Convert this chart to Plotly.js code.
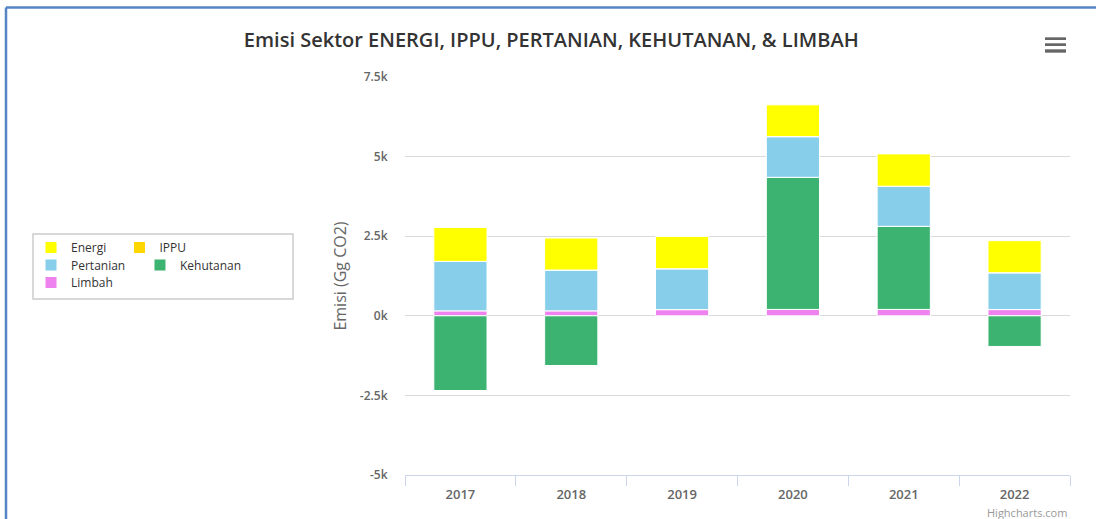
<!DOCTYPE html>
<html>
<head>
<meta charset="utf-8">
<script src="https://cdn.plot.ly/plotly-3.0.1.min.js"></script>
<style>
  html, body { margin: 0; padding: 0; background: #ffffff; }
  #chart { width: 1096px; height: 519px; }
</style>
</head>
<body>
<div id="chart"></div>
<script>
// ---- data (Gg CO2) ----
var years = ['2017', '2018', '2019', '2020', '2021', '2022'];
var energi = [1068, 1005, 1015, 996, 1015, 1005];
var ippu = [3, 3, 3, 4, 4, 4];
var pertanian = [1550, 1280, 1281, 1275, 1256, 1155];
var kehutanan = [-2346, -1561, 0, 4150, 2610, -963];
var limbah = [155, 155, 195, 200, 200, 195];

var yTickVals = [-5000, -2500, 0, 2500, 5000, 7500];
var yTickText = ['-5k', '-2.5k', '0k', '2.5k', '5k', '7.5k'];

var FONT = 'Open Sans, Noto Sans, sans-serif';

function barTrace(name, values, color, legendId) {
  return {
    type: 'bar',
    name: name,
    x: years,
    y: values,
    marker: { color: color, line: { color: '#ffffff', width: 1 } },
    legend: legendId,
    showlegend: true,
    hoverinfo: 'x+y+name'
  };
}

// stacking order: first trace is nearest zero
var data = [
  barTrace('Limbah', limbah, '#ee82ee', 'legend5'),
  barTrace('Kehutanan', kehutanan, '#3cb371', 'legend4'),
  barTrace('Pertanian', pertanian, '#87ceeb', 'legend3'),
  barTrace('IPPU', ippu, '#ffd700', 'legend2'),
  barTrace('Energi', energi, '#ffff00', 'legend')
];

function legendAt(x, y) {
  return {
    x: x, y: y, xanchor: 'left', yanchor: 'middle',
    xref: 'paper', yref: 'paper',
    bgcolor: 'rgba(0,0,0,0)', borderwidth: 0,
    font: { family: FONT, size: 12, color: '#333333' },
    orientation: 'v',
    visible: true
  };
}

var layout = {
  width: 1096,
  height: 519,
  showlegend: true,
  paper_bgcolor: '#ffffff',
  plot_bgcolor: '#ffffff',
  margin: { l: 405, r: 26, t: 77, b: 44, autoexpand: false },
  font: { family: FONT, color: '#666666' },
  barmode: 'relative',
  bargap: 0.52,
  title: {
    text: 'Emisi Sektor ENERGI, IPPU, PERTANIAN, KEHUTANAN, &amp; LIMBAH',
    x: 0.503, xanchor: 'center', xref: 'container',
    y: 1 - 40 / 519, yanchor: 'middle', yref: 'container',
    font: { family: FONT, size: 20, color: '#333333', weight: 600 }
  },
  xaxis: {
    type: 'category',
    tickson: 'boundaries',
    ticks: 'outside',
    ticklen: 10,
    tickcolor: '#ccd6eb',
    tickwidth: 1,
    ticklabelstandoff: 7,
    showline: true,
    linecolor: '#ccd6eb',
    linewidth: 1,
    showgrid: false,
    zeroline: false,
    tickfont: { family: FONT, size: 13, color: '#666666', weight: 600 },
    fixedrange: true
  },
  yaxis: {
    range: [-5000, 7500],
    tickvals: yTickVals,
    ticktext: yTickText,
    ticks: 'outside',
    ticklen: 14,
    tickcolor: 'rgba(0,0,0,0)',
    showgrid: true,
    gridcolor: '#dadada',
    gridwidth: 1,
    zeroline: false,
    showline: false,
    tickfont: { family: FONT, size: 12, color: '#666666', weight: 600 },
    title: {
      text: 'Emisi (Gg CO2)',
      standoff: 9,
      font: { family: FONT, size: 16, color: '#666666' }
    },
    fixedrange: true
  },
  legend: legendAt(-0.5624, 0.5716),
  legend2: legendAt(-0.4293, 0.5716),
  legend3: legendAt(-0.5624, 0.5276),
  legend4: legendAt(-0.3985, 0.5276),
  legend5: legendAt(-0.5624, 0.4837),
  shapes: [
    // outer frame (top + left)
    { type: 'line', xref: 'paper', yref: 'paper', x0: -0.6, x1: 1.0391, y0: 1.1746, y1: 1.1746,
      line: { color: '#5585c5', width: 2.5 } },
    { type: 'line', xref: 'paper', yref: 'paper', x0: -0.6, x1: -0.6, y0: 1.1746, y1: -0.1106,
      line: { color: '#5585c5', width: 2.5 } },
    // legend box
    { type: 'rect', xref: 'paper', yref: 'paper', x0: -0.5594, x1: -0.1684, y0: 0.4422, y1: 0.6055,
      line: { color: '#cccccc', width: 1.5 }, fillcolor: 'rgba(0,0,0,0)' },
    // context menu icon
    { type: 'rect', xref: 'paper', yref: 'paper', x0: 0.9624, x1: 0.9940, y0: 1.0930, y1: 1.0997,
      line: { width: 0 }, fillcolor: '#666666' },
    { type: 'rect', xref: 'paper', yref: 'paper', x0: 0.9624, x1: 0.9940, y0: 1.0779, y1: 1.0847,
      line: { width: 0 }, fillcolor: '#666666' },
    { type: 'rect', xref: 'paper', yref: 'paper', x0: 0.9624, x1: 0.9940, y0: 1.0611, y1: 1.0696,
      line: { width: 0 }, fillcolor: '#666666' }
  ],
  annotations: [
    { text: 'Highcharts.com', xref: 'paper', yref: 'paper', x: 0.9985, y: -0.0947,
      xanchor: 'right', yanchor: 'middle', showarrow: false,
      font: { family: FONT, size: 11, color: '#999999' } }
  ]
};

Plotly.newPlot('chart', data, layout, { displayModeBar: false, staticPlot: false, responsive: false });
</script>
</body>
</html>
